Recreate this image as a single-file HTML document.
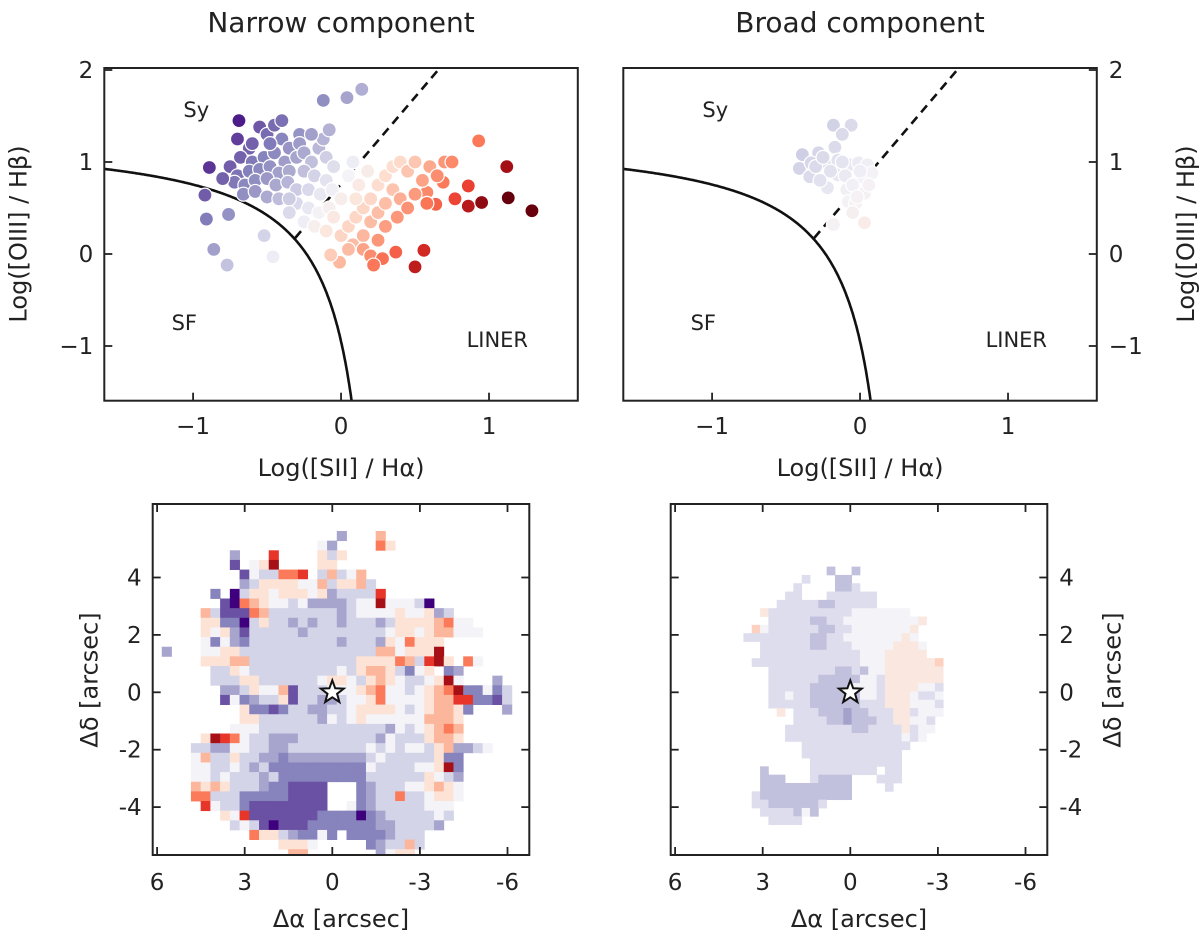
<!DOCTYPE html>
<html><head><meta charset="utf-8">
<style>
html,body{margin:0;padding:0;background:#fff;}
svg{display:block;font-family:"DejaVu Sans","Liberation Sans",sans-serif;}
</style></head>
<body>
<svg id="fig" width="1200" height="939" viewBox="0 0 1200 939" xmlns="http://www.w3.org/2000/svg"></svg>
<script>
// ---------- DATA ----------
const narrowX = [-0.69,-0.89,-0.92,-0.91,-0.86,-0.77,-0.76,-0.52,-0.46,-0.12,0.04,0.14,0.93,1.12,1.13,1.29,0.86,0.86,0.95,0.77,0.64,0.69,0.58,0.37,0.56,0.5,-0.01,-0.07,
 -0.7,-0.62,-0.55,-0.5,-0.45,-0.4,-0.35,-0.68,-0.6,-0.52,-0.45,-0.38,-0.3,-0.75,-0.7,-0.62,-0.55,-0.48,-0.42,-0.35,-0.72,-0.65,-0.58,-0.5,-0.44,-0.36,-0.66,-0.58,-0.5,-0.42,-0.6,-0.48,-0.8,-0.4,-0.28,-0.28,
 -0.25,-0.2,-0.15,-0.1,-0.05,-0.25,-0.18,-0.1,-0.3,-0.22,-0.14,-0.06,-0.3,-0.22,-0.15,-0.08,-0.25,-0.18,-0.1,-0.05,0.0,-0.12,-0.2,-0.08,0.05,-0.35,-0.35,0.08,
 0.0,0.05,0.1,0.15,0.08,0.15,0.2,0.25,0.3,0.2,0.25,0.3,0.35,0.4,0.45,0.35,0.4,0.45,0.3,0.25,0.15,0.2,0.12,0.18,0.5,0.55,0.6,0.5,0.65,0.38,0.28,0.22,0.1,0.05,0.7,0.75,0.58];
const narrowY = [1.45,0.94,0.64,0.38,0.05,-0.12,0.43,0.2,-0.03,1.67,1.7,1.79,1.23,0.95,0.61,0.47,0.74,0.52,0.56,0.6,0.54,0.78,0.67,0.02,0.04,-0.14,-0.09,-0.01,
 1.25,1.15,1.38,1.3,1.4,1.25,1.15,1.05,1.0,1.05,1.1,1.0,1.05,0.95,0.85,0.9,0.92,0.95,0.88,0.9,0.78,0.75,0.8,0.82,0.75,0.78,0.65,0.68,0.62,0.6,1.2,1.2,0.82,1.45,1.3,1.2,
 1.1,1.0,1.15,1.05,0.95,0.9,0.85,0.8,0.7,0.7,0.65,0.7,0.55,0.5,0.45,0.5,0.35,0.3,0.25,0.4,0.6,1.25,1.3,1.35,0.85,0.6,0.45,1.0,
 0.2,0.3,0.4,0.5,0.1,0.2,0.35,0.45,0.55,0.6,0.75,0.85,0.95,1.0,0.9,0.7,0.6,0.5,0.3,0.15,0.05,-0.02,0.75,0.9,0.65,0.8,0.95,1.0,0.85,0.4,-0.05,-0.12,0.6,0.05,1.0,1.0,0.55];
const broadX = [-0.18,-0.06,-0.12,-0.17,-0.39,-0.28,-0.41,-0.33,-0.34,-0.22,-0.15,-0.15,-0.07,-0.01,0.05,-0.22,-0.09,0.01,0.08,-0.08,-0.03,0.03,-0.05,-0.18,0.03,-0.3,-0.25,-0.2,-0.1,-0.05,0.0,-0.27,-0.12,0.06,-0.02];
const broadY = [1.40,1.40,1.30,1.16,1.08,1.10,0.93,0.99,0.84,0.99,1.02,0.86,0.97,0.99,0.97,0.72,0.70,0.84,0.88,0.57,0.55,0.66,0.45,0.32,0.34,0.95,1.05,0.9,0.85,0.75,0.9,0.8,1.0,0.75,0.62];
const xTicksTop = [-1,0,1];
const xTickLabelsTop = ["\u22121","0","1"];
const yTicksTop = [-1,0,1,2];
const yTickLabelsTop = ["\u22121","0","1","2"];
const mapTicksX = [6,3,0,-3,-6];
const mapTickLabelsX = ["6","3","0","-3","-6"];
const mapTicksY = [4,2,0,-2,-4];
const mapTickLabelsY = ["4","2","0","-2","-4"];
const codeChars = ["e","d","c","b","a","0","1","2","3","4","5","6"];
const codeValues = [-1,-0.8,-0.6,-0.4,-0.2,0,0.2,0.4,0.6,0.8,0.9,1];
const narrowMap = [
"..................b...2",
"................0b....31",
".......b...4....1a1",
".......d.015....11",
"........d0aa334.a2a02",
"........ba1111002a112a",
".....c.ea11011101baaaa4",
"......de32100a0bbbba005000ae",
"....2addd32aaaaaaaba00001001ba",
"....11ccea1aababaabaaaba11112300",
"....101bdaaaaabaaaaaaaa0110122000",
"....0c0bcaaaaaaaaabaaab103111",
"b...0011aaaaaaaaaaaaaa2201115",
"....11122aaaaaaaaaaa111132a451.30",
".....aa10aaaaaaaaa0a1221ac01.cb",
".....aaa11aaaaaa0110a1210aa0150...b",
"......bba1002daaa00012300a01235cc0ca",
"......d0cbaa1daabba0013000012244ccda",
"........1ccdcaabbaa011110a01221c...b",
"........11aaaaaab0a010000002221",
".......000aaaaaaaaaaaaab0a01232",
"....15430aabbbaaaaaaaab0aaa1221",
"...aabb00aabbaaaaaaaa0a0a00a12bba0",
"...02aa1aabbcbbbbbbbba0aaaaa1cc",
"...00aa0abacccccccccc0aaaa0015c",
"...00a0aaabacccccccccaaaaaa10ab",
"...2121aaabccdddd...cbaaa001210",
"...33aaacccccdddd...cbaa3aa0110",
"....40aacdddddddd..0cbaaaaa000",
"......104dddddddccccecbaaaaa0a",
".......a0adedddcccccccbbaaaab",
".........311abcc0c.ccccbaaa",
"............1110.....cbaa2a",
".............22.......b011"
];
const broadMap = [
"..........b..b",
".......a...bb",
"......a....bba",
".....aa...aaaaaa",
"....aaaaabbaaaaa",
"..1aaaaaaaaaa0000000",
"...aaaaabbaa0000000001",
".20aaaaaabbaa00000001",
"aaaaaaaabbaa000000010",
"..aaaaaabbaaa000001110",
"..aaaaaaaaaaaa00011111",
".aaaaaaaaaaaaa0001111112",
"...aaaaaaaabbab001111111",
"...aaaaaabbbbb00a1111111",
"...aaaaabbbbb000a111100a",
"...aa0aabbbbbb00a1110aa0",
"...aaaaabbbbbbaaa111000a",
"....1.aaabbbcbbaaa11a000",
"......aaaabbcbbbaa1100a",
".....aaaaaaaabbaaaa1a00",
".....aaaaaaaaaaaaaa0a0",
".......aaaaaaaaaaaaa",
".......aaaaaaaaaaaa",
"........aaaaaaaaaaa",
"..b.....aaaaaaaa.aa",
"..bbb...abbbb...aaa",
"..bbbbbbbbbbb....a",
".abbbbbbbbbbb",
".aabbbbbba",
"..aaaab0b",
"...aaaa"
];
const narrowGrid = {x0:5.84, y0:5.62, dx:0.333, dy:0.336};
const broadGrid = {x0:3.66, y0:4.38, dx:0.285, dy:0.29};

// ---------- HELPERS ----------
const svg = document.getElementById('fig');
const NS = 'http://www.w3.org/2000/svg';
function mk(tag, attrs, parent){
  const e = document.createElementNS(NS, tag);
  for (const k in attrs) e.setAttribute(k, attrs[k]);
  (parent||svg).appendChild(e);
  return e;
}
function linScale(d0,d1,r0,r1){ return v => r0 + (v-d0)*(r1-r0)/(d1-d0); }
const stops = [[-1,[63,0,125]],[-0.8,[106,81,163]],[-0.6,[134,131,189]],[-0.4,[167,164,205]],[-0.2,[212,212,232]],[0,[244,243,248]],[0.2,[253,227,214]],[0.4,[252,182,156]],[0.6,[251,122,90]],[0.8,[232,53,42]],[0.9,[165,15,21]],[1,[103,0,13]]];
function cmap(v){
  v = Math.max(-1, Math.min(1, v));
  for (let i=0;i<stops.length-1;i++){
    const a=stops[i], b=stops[i+1];
    if (v<=b[0]){
      const t=(v-a[0])/(b[0]-a[0]);
      const c=a[1].map((x,j)=>Math.round(x+(b[1][j]-x)*t));
      return 'rgb('+c.join(',')+')';
    }
  }
  return 'rgb(103,0,13)';
}
function text(str, x, y, size, anchor, parent, name, rot){
  const t = mk('text', {x:x, y:y, 'font-size':size, 'text-anchor':anchor||'middle', fill:'#222'}, parent);
  if (rot) t.setAttribute('transform', 'rotate('+rot+' '+x+' '+y+')');
  t.textContent = str;
  
  
  return t;
}

// ---------- BPT PANELS ----------
function bptPanel(left, isRight, title, xs, ys, colorScale, pname){
  const g = mk('g', {});
  
  
  const W=473.5, top=68, bot=400.7;
  const sx = linScale(-1.6, 1.6, left, left+W);
  const sy = linScale(0, 1, 254, 162);
  const clipId = 'clip-'+pname;
  const cp = mk('clipPath', {id:clipId}, g);
  mk('rect', {x:left, y:top, width:W, height:bot-top}, cp);
  const inner = mk('g', {'clip-path':'url(#'+clipId+')'}, g);
  let d='';
  for (let x=-1.6; x<=0.075; x+=0.005){
    const y = 0.72/(x-0.32)+1.30;
    d += (d?'L':'M') + sx(x).toFixed(1)+','+sy(y).toFixed(1);
  }
  const curve = mk('path', {d:d, fill:'none', stroke:'#111', 'stroke-width':2.6}, inner);
  
  
  const dl = mk('line', {x1:sx(-0.31), y1:sy(1.89*-0.31+0.76), x2:sx(0.75), y2:sy(1.89*0.75+0.76), stroke:'#111', 'stroke-width':2.6, 'stroke-dasharray':'9,6'}, inner);
  
  
  xs.forEach((xv,i)=>{
    const dist = (ys[i] - 1.89*xs[i] - 0.76)/2.138;
    const c = mk('circle', {cx:sx(xs[i]), cy:sy(ys[i]), r:7, fill:cmap(-dist/colorScale), stroke:'#fff', 'stroke-width':1.2}, inner);
    
    
  });
  const fr = mk('rect', {x:left, y:top, width:W, height:bot-top, fill:'none', stroke:'#222', 'stroke-width':2}, g);
  
  
  xTicksTop.forEach((v,i)=>{
    mk('line', {x1:sx(v), y1:bot, x2:sx(v), y2:bot-8, stroke:'#222', 'stroke-width':1.8}, g);
    text(xTickLabelsTop[i], sx(v), 434, 23, 'middle', g, 'x-tick-label');
  });
  yTicksTop.forEach((v,i)=>{
    if (isRight){
      mk('line', {x1:left+W, y1:sy(v), x2:left+W-8, y2:sy(v), stroke:'#222', 'stroke-width':1.8}, g);
      text(yTickLabelsTop[i], left+W+12, sy(v)+8, 23, 'start', g, 'y-tick-label');
    } else {
      mk('line', {x1:left, y1:sy(v), x2:left+8, y2:sy(v), stroke:'#222', 'stroke-width':1.8}, g);
      text(yTickLabelsTop[i], left-11, sy(v)+8, 23, 'end', g, 'y-tick-label');
    }
  });
  text(title, left+W/2, 32, 28, 'middle', g, 'panel-title');
  text('Log([SII] / H\u03B1)', left+W/2, 476, 24, 'middle', g, 'x-axis-title');
  const yl = isRight ? left+W+97 : left-78;
  text('Log([OIII] / H\u03B2)', yl, 234, 24, 'middle', g, 'y-axis-title', -90);
  text('Sy', left+92, 117, 21, 'middle', g, 'region-label-sy');
  text('SF', left+80, 330, 21, 'middle', g, 'region-label-sf');
  text('LINER', left+393, 347, 21, 'middle', g, 'region-label-liner');
}
bptPanel(104.3, false, 'Narrow component', narrowX, narrowY, 1.0, 'bpt-narrow-panel');
bptPanel(623.3, true, 'Broad component', broadX, broadY, 2.2, 'bpt-broad-panel');

// ---------- MAP PANELS ----------
function mapPanel(left, isRight, rows, grid, vscale, pname){
  const g = mk('g', {});
  
  
  const W=376.6, top=504, bot=855;
  const sx = linScale(0, 1, left+179.6, left+179.6-29.2);
  const sy = linScale(0, 1, 692.3, 663.6);
  const clipId = 'clip-'+pname;
  const cp = mk('clipPath', {id:clipId}, g);
  mk('rect', {x:left, y:top, width:W, height:bot-top}, cp);
  const inner = mk('g', {'clip-path':'url(#'+clipId+')'}, g);
  rows.forEach((row, r)=>{
    for (let c=0;c<row.length;c++){
      const k = codeChars.indexOf(row[c]);
      if (k<0) continue;
      const xa = grid.x0 - c*grid.dx, xb = grid.x0 - (c+1)*grid.dx;
      const ya = grid.y0 - r*grid.dy, yb = grid.y0 - (r+1)*grid.dy;
      const cell = mk('rect', {x:sx(xa), y:sy(ya), width:sx(xb)-sx(xa)+0.4, height:sy(yb)-sy(ya)+0.4, fill:cmap(codeValues[k]*vscale)}, inner);
      
      
    }
  });
  const cx=sx(0), cy=sy(0), R=12, r2=5;
  let pts=[];
  for (let i=0;i<10;i++){
    const a = -Math.PI/2 + i*Math.PI/5;
    const rr = i%2===0?R:r2;
    pts.push((cx+rr*Math.cos(a)).toFixed(1)+','+(cy+rr*Math.sin(a)).toFixed(1));
  }
  const st = mk('polygon', {points:pts.join(' '), fill:'#fff', stroke:'#111', 'stroke-width':2}, g);
  
  
  const fr = mk('rect', {x:left, y:top, width:W, height:bot-top, fill:'none', stroke:'#222', 'stroke-width':2}, g);
  
  
  mapTicksX.forEach((v,i)=>{
    mk('line', {x1:sx(v), y1:bot, x2:sx(v), y2:bot-8, stroke:'#222', 'stroke-width':1.8}, g);
    mk('line', {x1:sx(v), y1:top, x2:sx(v), y2:top+8, stroke:'#222', 'stroke-width':1.8}, g);
    text(mapTickLabelsX[i], sx(v), 890, 23, 'middle', g, 'x-tick-label');
  });
  mapTicksY.forEach((v,i)=>{
    mk('line', {x1:left, y1:sy(v), x2:left+8, y2:sy(v), stroke:'#222', 'stroke-width':1.8}, g);
    mk('line', {x1:left+W, y1:sy(v), x2:left+W-8, y2:sy(v), stroke:'#222', 'stroke-width':1.8}, g);
    if (isRight) text(mapTickLabelsY[i], left+W+12, sy(v)+8, 23, 'start', g, 'y-tick-label');
    else text(mapTickLabelsY[i], left-11, sy(v)+8, 23, 'end', g, 'y-tick-label');
  });
  text('\u0394\u03B1 [arcsec]', left+W/2, 927, 24, 'middle', g, 'x-axis-title');
  const yl = isRight ? left+W+73 : left-55;
  text('\u0394\u03B4 [arcsec]', yl, 680, 24, 'middle', g, 'y-axis-title', -90);
}
mapPanel(152.7, false, narrowMap, narrowGrid, 1.0, 'map-narrow-panel');
mapPanel(670.7, true, broadMap, broadGrid, 0.7, 'map-broad-panel');
</script>
</body></html>
